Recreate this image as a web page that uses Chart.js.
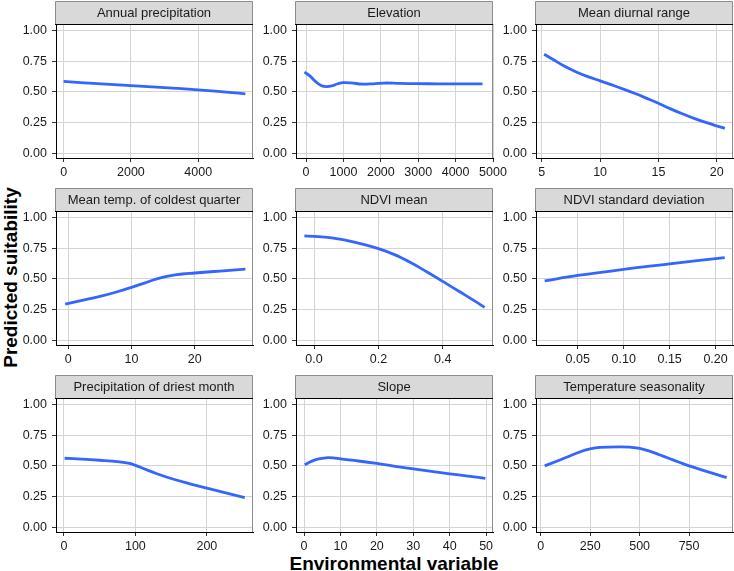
<!DOCTYPE html>
<html><head><meta charset="utf-8">
<script src="https://cdn.jsdelivr.net/npm/chart.js@4.4.0/dist/chart.umd.min.js"></script>
<style>
html,body{margin:0;padding:0;background:#fff;width:734px;height:571px;overflow:hidden;position:relative;font-family:"Liberation Sans",Arial,Helvetica,sans-serif;}
canvas{position:absolute;}
.title{position:absolute;font-weight:bold;font-size:19px;line-height:19px;color:#000;white-space:nowrap;text-align:center;}
</style></head><body>
<div class="title" style="left:194px;width:400px;top:554px;">Environmental variable</div>
<div class="title" style="left:-140.5px;width:300px;top:267.5px;transform:rotate(-90deg);">Predicted suitability</div>
<script>
// ---- data ----
const panelTitles = ["Annual precipitation","Elevation","Mean diurnal range",
  "Mean temp. of coldest quarter","NDVI mean","NDVI standard deviation",
  "Precipitation of driest month","Slope","Temperature seasonality"];

const yTicks = [0, 0.25, 0.5, 0.75, 1];
const yTickLabels = ["0.00","0.25","0.50","0.75","1.00"];

const annPrecipX = [0, 1000, 2000, 3000, 4000, 5000, 5400];
const annPrecipY = [0.585, 0.567, 0.551, 0.535, 0.517, 0.495, 0.485];
const annPrecipTicks = [0, 2000, 4000];
const annPrecipTickLabels = ["0","2000","4000"];

const elevX = [-45, 100, 250, 400, 550, 700, 850, 1000, 1200, 1500, 1800, 2100, 2500, 3000, 3500, 4000, 4720];
const elevY = [0.660, 0.630, 0.585, 0.552, 0.543, 0.550, 0.566, 0.575, 0.573, 0.563, 0.566, 0.572, 0.569, 0.567, 0.566, 0.566, 0.566];
const elevTicks = [0, 1000, 2000, 3000, 4000, 5000];
const elevTickLabels = ["0","1000","2000","3000","4000","5000"];

const diurnalX = [5.2, 6, 7, 8, 9, 10, 11, 12, 13, 14, 15, 16, 17, 18, 19, 20, 20.7];
const diurnalY = [0.805, 0.76, 0.705, 0.66, 0.622, 0.59, 0.557, 0.523, 0.487, 0.448, 0.408, 0.365, 0.325, 0.288, 0.255, 0.225, 0.205];
const diurnalTicks = [5, 10, 15, 20];
const diurnalTickLabels = ["5","10","15","20"];

const coldQX = [-0.5, 2, 5, 8, 10, 12, 14, 16, 18, 20, 22, 24, 26, 28];
const coldQY = [0.296, 0.325, 0.358, 0.400, 0.432, 0.466, 0.500, 0.525, 0.540, 0.548, 0.556, 0.564, 0.572, 0.580];
const coldQTicks = [0, 10, 20];
const coldQTickLabels = ["0","10","20"];

const ndviMeanX = [-0.03, 0, 0.05, 0.1, 0.15, 0.2, 0.25, 0.3, 0.35, 0.4, 0.45, 0.5, 0.53];
const ndviMeanY = [0.848, 0.845, 0.835, 0.812, 0.782, 0.745, 0.697, 0.633, 0.558, 0.48, 0.40, 0.32, 0.27];
const ndviMeanTicks = [0, 0.2, 0.4];
const ndviMeanTickLabels = ["0.0","0.2","0.4"];

const ndviSdX = [0.014, 0.05, 0.1, 0.15, 0.21];
const ndviSdY = [0.485, 0.528, 0.578, 0.622, 0.673];
const ndviSdTicks = [0.05, 0.10, 0.15, 0.20];
const ndviSdTickLabels = ["0.05","0.10","0.15","0.20"];

const driestX = [1, 25, 50, 75, 90, 100, 115, 130, 150, 175, 200, 225, 253];
const driestY = [0.562, 0.555, 0.546, 0.535, 0.522, 0.505, 0.47, 0.437, 0.398, 0.357, 0.32, 0.284, 0.243];
const driestTicks = [0, 100, 200];
const driestTickLabels = ["0","100","200"];

const slopeX = [0.2, 2, 4, 6, 8, 10, 15, 20, 25, 30, 35, 40, 45, 49.8];
const slopeY = [0.51, 0.537, 0.557, 0.566, 0.565, 0.557, 0.54, 0.52, 0.497, 0.476, 0.455, 0.436, 0.418, 0.40];
const slopeTicks = [0, 10, 20, 30, 40, 50];
const slopeTickLabels = ["0","10","20","30","40","50"];

const tSeasX = [20, 100, 200, 250, 300, 400, 450, 500, 550, 600, 650, 700, 750, 850, 940];
const tSeasY = [0.50, 0.55, 0.615, 0.638, 0.65, 0.655, 0.652, 0.643, 0.62, 0.59, 0.56, 0.53, 0.50, 0.45, 0.405];
const tSeasTicks = [0, 250, 500, 750];
const tSeasTickLabels = ["0","250","500","750"];

const xRanges = [[-226, 5628], [-270, 5000], [4.5, 21.4], [-1.95, 29.2], [-0.056, 0.556],
                 [0.0045, 0.219], [-11, 264.5], [-2.2, 51.9], [-24, 972]];
const yRange = [-0.035, 1.05];

const panels = [
  [annPrecipX, annPrecipY, annPrecipTicks, annPrecipTickLabels],
  [elevX, elevY, elevTicks, elevTickLabels],
  [diurnalX, diurnalY, diurnalTicks, diurnalTickLabels],
  [coldQX, coldQY, coldQTicks, coldQTickLabels],
  [ndviMeanX, ndviMeanY, ndviMeanTicks, ndviMeanTickLabels],
  [ndviSdX, ndviSdY, ndviSdTicks, ndviSdTickLabels],
  [driestX, driestY, driestTicks, driestTickLabels],
  [slopeX, slopeY, slopeTicks, slopeTickLabels],
  [tSeasX, tSeasY, tSeasTicks, tSeasTickLabels]
];

// ---- drawing ----
const FONT = '"Liberation Sans", Arial, Helvetica, sans-serif';
Chart.defaults.font.family = FONT;

const facetPlugin = {
  id: 'facet',
  beforeDatasetsDraw(chart) {
    const {ctx, chartArea: a} = chart;
    ctx.save();
    ctx.strokeStyle = '#8c8c8c'; ctx.lineWidth = 1;
    const xr = Math.round(a.right) - 0.5;
    ctx.beginPath(); ctx.moveTo(xr, a.top); ctx.lineTo(xr, a.bottom); ctx.stroke();
    ctx.restore();
  },
  afterDraw(chart, args, opts) {
    const {ctx, chartArea: a} = chart;
    const l = Math.round(a.left) - 0.5, r = Math.round(a.right) - 0.5;
    const t = 0.5, b = Math.round(a.top) + 0.5;
    ctx.save();
    ctx.fillStyle = '#D9D9D9';
    ctx.fillRect(l, t, r - l, b - t);
    ctx.strokeStyle = '#8c8c8c'; ctx.lineWidth = 1;
    ctx.beginPath();
    ctx.moveTo(l, b); ctx.lineTo(l, t); ctx.lineTo(r, t); ctx.lineTo(r, b);
    ctx.stroke();
    ctx.strokeStyle = '#000';
    ctx.beginPath(); ctx.moveTo(l - 0.5, b); ctx.lineTo(r + 0.5, b); ctx.stroke();
    ctx.fillStyle = '#1a1a1a';
    ctx.font = '13px ' + FONT;
    ctx.textAlign = 'center'; ctx.textBaseline = 'middle';
    ctx.fillText(opts.title, (l + r) / 2, (t + b) / 2 + 0.5);
    ctx.restore();
  }
};

panels.forEach((p, i) => {
  const [xs, ys, xt, xl] = p;
  const r = Math.floor(i / 3), c = i % 3;
  const cv = document.createElement('canvas');
  cv.width = 277; cv.height = 181;
  cv.style.left = (240 * c) + 'px';
  cv.style.top = (1 + 187 * r) + 'px';
  cv.style.width = '277px'; cv.style.height = '181px';
  document.body.appendChild(cv);
  new Chart(cv, {
    type: 'line',
    data: { datasets: [{
      data: xs.map((x, k) => ({x: x, y: ys[k]})),
      borderColor: '#3366FF', borderWidth: 2.8, pointRadius: 0,
      tension: 0.4, fill: false, borderCapStyle: 'butt', borderJoinStyle: 'round'
    }]},
    options: {
      responsive: false, animation: false, devicePixelRatio: 1,
      layout: { autoPadding: false, padding: {left: 0, right: 24, top: 23, bottom: 0} },
      plugins: { legend: {display: false}, tooltip: {enabled: false}, facet: {title: panelTitles[i]} },
      scales: {
        x: {
          type: 'linear', position: 'bottom', min: xRanges[i][0], max: xRanges[i][1],
          afterFit: s => { s.height = 24; },
          afterBuildTicks: s => { s.ticks = xt.map(v => ({value: v})); },
          ticks: { callback: (v, idx) => xl[idx], font: {size: 12.5, family: FONT}, color: '#1a1a1a',
                   padding: 3, maxRotation: 0, autoSkip: false },
          grid: { color: '#d4d4d4', lineWidth: 1, tickLength: 4, tickColor: '#333', drawTicks: true },
          border: { display: true, color: '#000', width: 1 }
        },
        y: {
          type: 'linear', position: 'left', min: yRange[0], max: yRange[1],
          afterFit: s => { s.width = 56; },
          afterBuildTicks: s => { s.ticks = yTicks.map(v => ({value: v})); },
          ticks: { callback: (v, idx) => yTickLabels[idx], font: {size: 12.5, family: FONT}, color: '#1a1a1a',
                   padding: 5, autoSkip: false },
          grid: { color: '#d4d4d4', lineWidth: 1, tickLength: 4, tickColor: '#333', drawTicks: true },
          border: { display: true, color: '#000', width: 1 }
        }
      }
    },
    plugins: [facetPlugin]
  });
});
</script>
</body></html>
